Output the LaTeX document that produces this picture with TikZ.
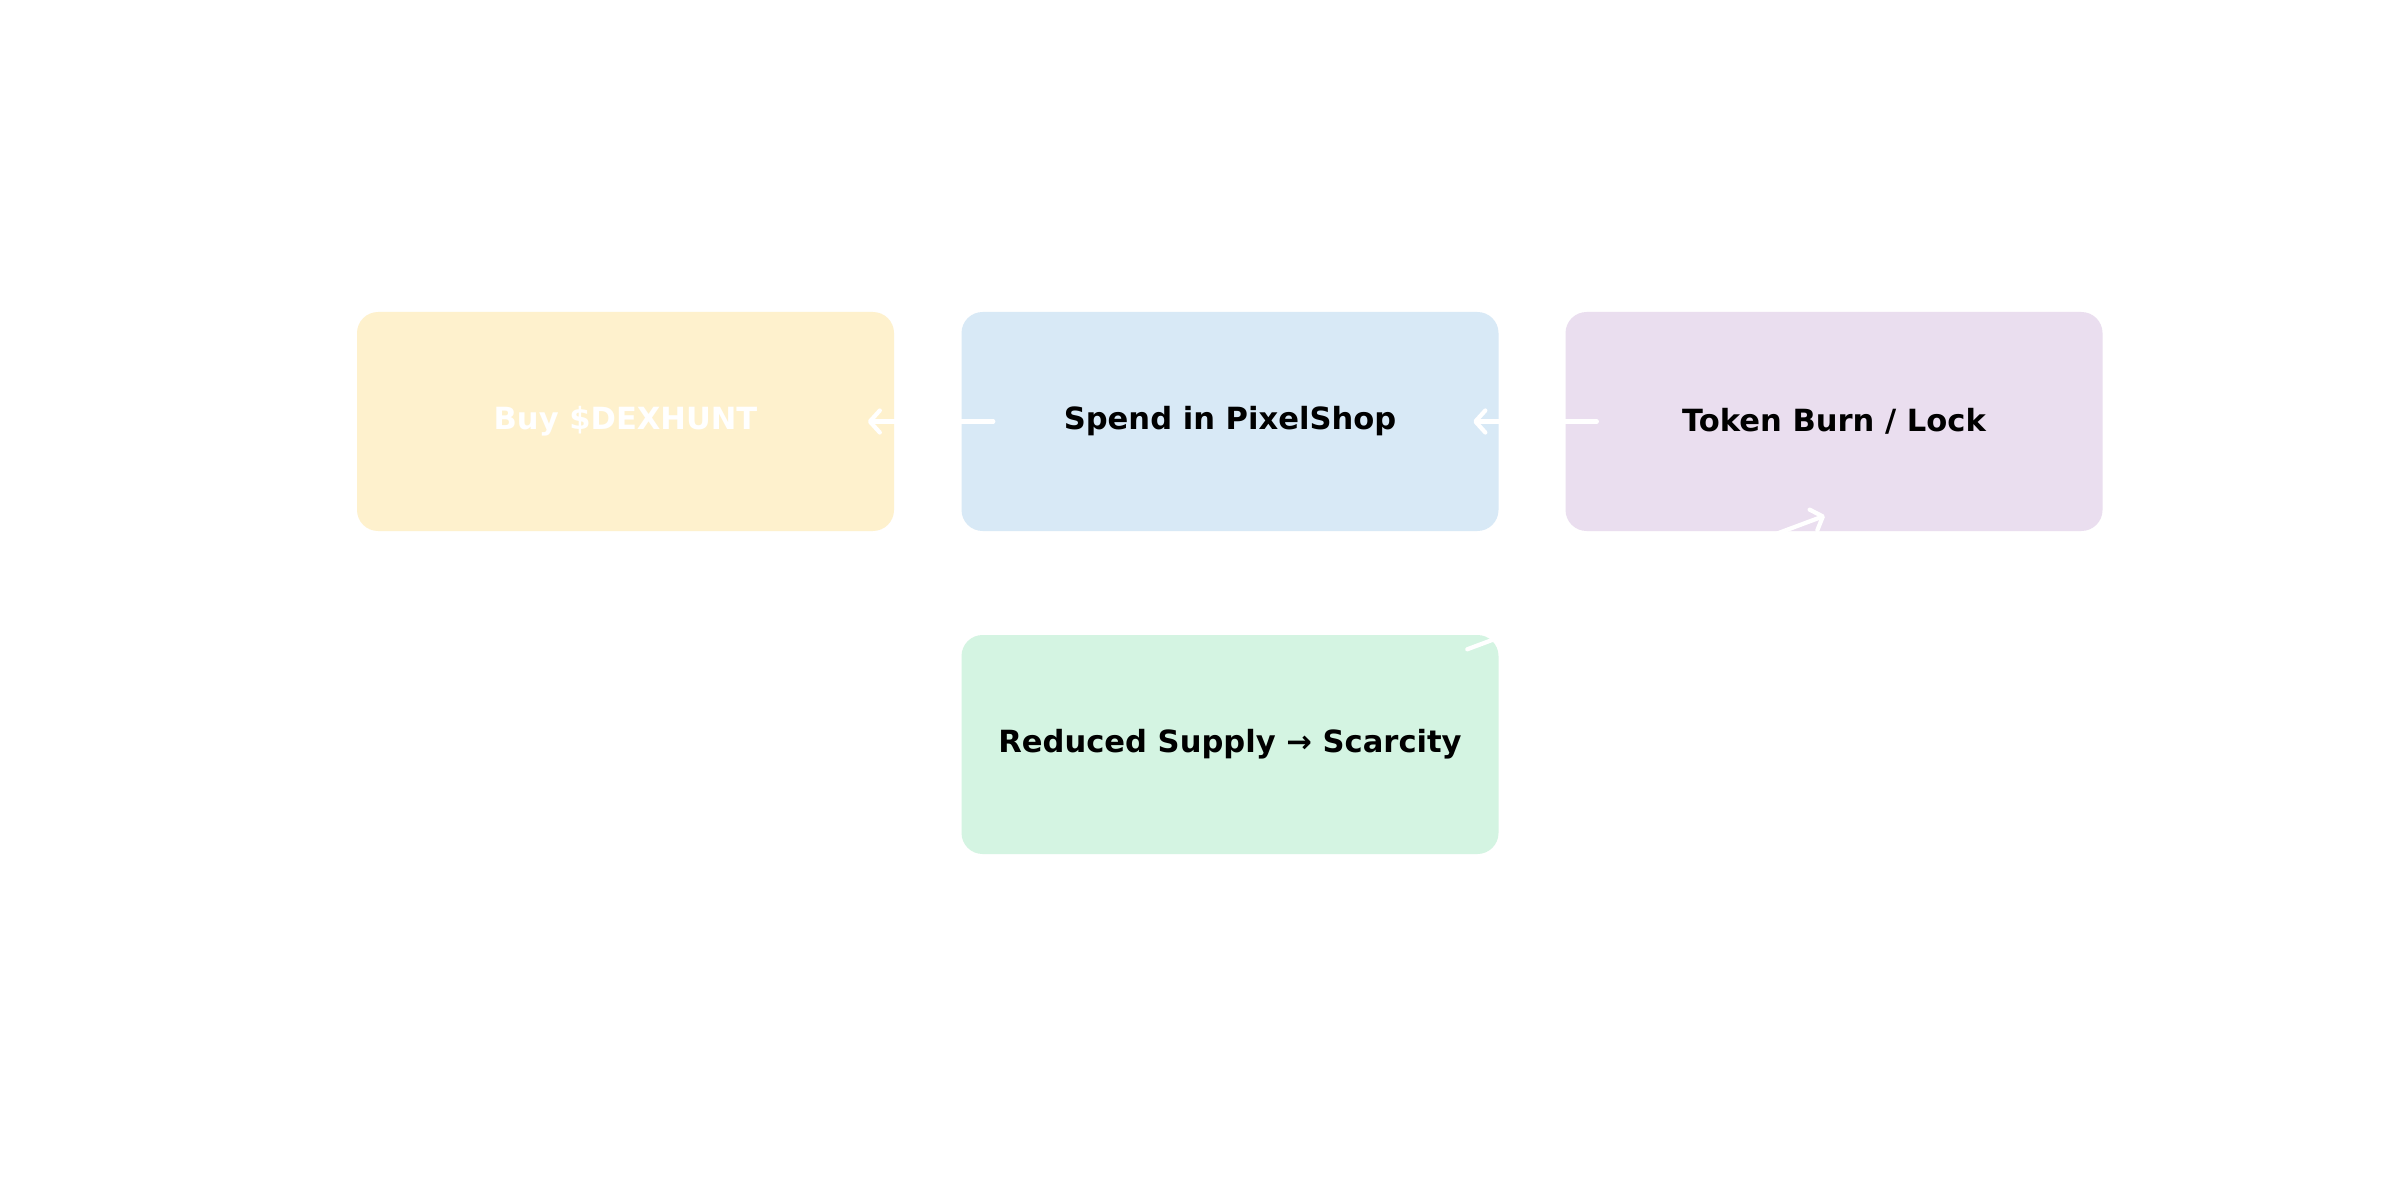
\documentclass[tikz,border=0pt]{standalone}
\usepackage{fontspec}
\setmainfont{DejaVu Sans}
\usepackage{tikz}
\usetikzlibrary{arrows.meta,shapes}
\definecolor{buyfill}{HTML}{FEF1CD}
\definecolor{spendfill}{HTML}{D8E9F6}
\definecolor{burnfill}{HTML}{EADEEF}
\definecolor{supplyfill}{HTML}{D4F4E2}
\tikzstyle{box}=[rectangle,rounded corners=6pt,minimum width=5.37cm,minimum height=2.19cm,inner sep=0pt,font=\fontsize{8.7}{10}\selectfont\bfseries]
\tikzstyle{flow}=[draw=white,line width=1.2pt,line cap=round,-{Straight Barb[length=1mm,width=2.2mm,round]}]

\begin{document}
\begin{tikzpicture}[scale=1]
    \useasboundingbox[fill=white] (0,0) rectangle (24,12);
    % The four stages of the loop
    \foreach \pos/\name/\col/\ink/\txt in {{(6.255,7.785)/buy/buyfill/white/Buy \$DEXHUNT}, {(12.30,7.785)/spend/spendfill/black/Spend in PixelShop}, {(18.34,7.785)/burn/burnfill/black/{Token Burn / Lock}}, {(12.30,4.555)/supply/supplyfill/black/Reduced Supply → Scarcity}}
        \node[box,fill=\col,text=\ink] (\name) at \pos {\txt};
    % White arrows between them
    \draw[flow] ([xshift=0.325cm]spend.west) -- ([xshift=-0.27cm]buy.east);
    \draw[flow] ([xshift=0.32cm]burn.west) -- ([xshift=-0.26cm]spend.east);
    \draw[flow] ([xshift=-0.32cm,yshift=-0.15cm]supply.north east) -- ([xshift=2.6cm,yshift=0.16cm]burn.south west);
\end{tikzpicture}
\end{document}
